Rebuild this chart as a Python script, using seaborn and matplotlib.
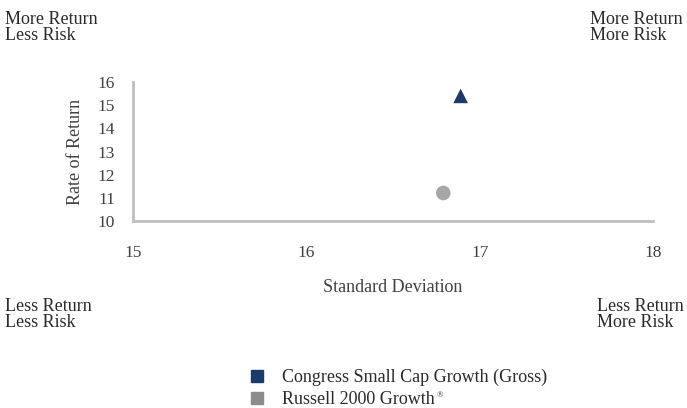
import matplotlib
matplotlib.use("Agg")
import matplotlib.pyplot as plt
import seaborn as sns
import pandas as pd
from matplotlib.lines import Line2D

names = ["Congress Small Cap Growth (Gross)", "Russell 2000 Growth"]
std_dev = [16.89, 16.79]
returns = [15.40, 11.21]
point_colors = ["#1b3a68", "#a6a6a6"]
legend_colors = ["#1b3a68", "#8c8c8c"]
markers = ["^", "o"]
x_ticks = [15, 16, 17, 18]
y_ticks = [10, 11, 12, 13, 14, 15, 16]

sns.set_theme(style="white")
plt.rcParams['font.family'] = ['Liberation Serif', 'DejaVu Serif']
txt = "#404040"

df = pd.DataFrame({"name": names, "sd": std_dev, "ret": returns})

fig = plt.figure(figsize=(6.87, 4.08), dpi=100)
ax = fig.add_axes([0.1936, 0.4583, 0.757, 0.3407])
sns.scatterplot(data=df, x="sd", y="ret", hue="name", style="name",
                palette=dict(zip(names, point_colors)),
                markers=dict(zip(names, markers)), s=110, linewidth=0,
                legend=False, ax=ax, clip_on=False)
ax.set_xlim(15, 18)
ax.set_ylim(10, 16)
ax.set_xticks(x_ticks)
ax.set_yticks(y_ticks)
ax.tick_params(axis='x', length=0, pad=17, labelsize=12.5, labelcolor=txt)
ax.tick_params(axis='y', length=0, pad=13, labelsize=12.5, labelcolor=txt)
for s in ["top", "right"]:
    ax.spines[s].set_visible(False)
for s in ["left", "bottom"]:
    ax.spines[s].set_color("#bfbfbf")
    ax.spines[s].set_linewidth(2)
ax.set_xlabel("Standard Deviation", fontsize=13, color=txt, labelpad=13)
ax.set_ylabel("Rate of Return", fontsize=13, color=txt, labelpad=10)

fs = 13
cc = "#2a2a2a"
fig.text(5/687, 1 - 11/408, "More Return\nLess Risk", ha="left", va="top", fontsize=fs, color=cc, linespacing=0.95)
fig.text(590/687, 1 - 11/408, "More Return\nMore Risk", ha="left", va="top", fontsize=fs, color=cc, linespacing=0.95)
fig.text(5/687, 1 - 298/408, "Less Return\nLess Risk", ha="left", va="top", fontsize=fs, color=cc, linespacing=0.95)
fig.text(597/687, 1 - 298/408, "Less Return\nMore Risk", ha="left", va="top", fontsize=fs, color=cc, linespacing=0.95)

handles = [Line2D([], [], marker="s", linestyle="", color=c, markersize=9) for c in legend_colors]
leg = fig.legend(handles, names, loc="upper left", bbox_to_anchor=(248/687, 1 - 369/408),
                 frameon=False, fontsize=13, handletextpad=0.9, labelspacing=0.25,
                 handlelength=1.0, borderaxespad=0, borderpad=0)
for t in leg.get_texts():
    t.set_color(cc)

fig.canvas.draw()
bb = leg.get_texts()[1].get_window_extent()
fig.text((bb.x1 + 2) / 687, (bb.y1 - 1) / 408, "®", fontsize=6, color=cc, ha="left", va="top")

fig.savefig("out.png", dpi=100)
